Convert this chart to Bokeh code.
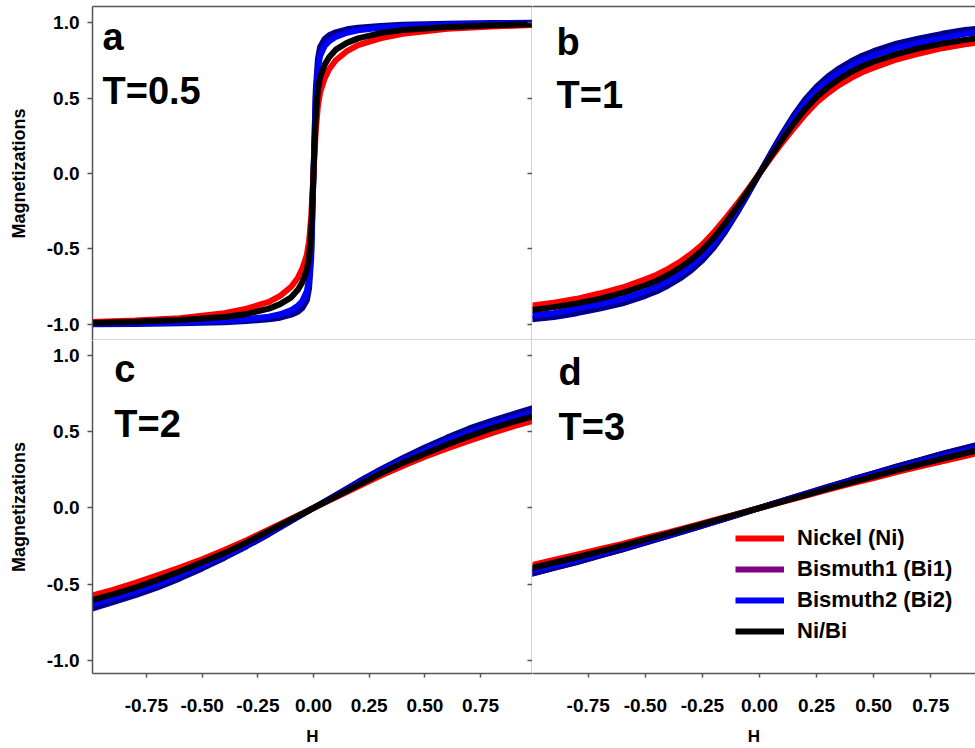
from bokeh.plotting import figure
from bokeh.models import (Range1d, LinearAxis, FixedTicker, Label, Legend, LegendItem,
                          PrintfTickFormatter)
from bokeh.layouts import column, row
from bokeh.embed import file_html
from bokeh.resources import INLINE

# ---------------- data ----------------
X_TICKS = [-0.75, -0.5, -0.25, 0.0, 0.25, 0.5, 0.75]
Y_TICKS = [-1.0, -0.5, 0.0, 0.5, 1.0]

SERIES = ["Nickel (Ni)", "Bismuth1 (Bi1)", "Bismuth2 (Bi2)", "Ni/Bi"]

# panel a, T=0.5
H_A = [-1.0, -0.8, -0.6, -0.4, -0.3, -0.2, -0.15, -0.1, -0.07, -0.05, -0.03, -0.02, -0.01, 0.0,
       0.01, 0.02, 0.03, 0.05, 0.07, 0.1, 0.15, 0.2, 0.3, 0.4, 0.6, 0.8, 1.0]
NI_A = [-0.984, -0.974, -0.958, -0.925, -0.895, -0.85, -0.81, -0.75, -0.69, -0.63, -0.54, -0.45, -0.28, 0.0,
        0.28, 0.45, 0.54, 0.63, 0.69, 0.75, 0.81, 0.85, 0.895, 0.925, 0.958, 0.974, 0.984]
BI1_A = [-0.998, -0.996, -0.992, -0.985, -0.977, -0.965, -0.955, -0.935, -0.915, -0.89, -0.84, -0.76, -0.55, 0.0,
         0.55, 0.76, 0.84, 0.89, 0.915, 0.935, 0.955, 0.965, 0.977, 0.985, 0.992, 0.996, 0.998]
BI2_A = [-0.995, -0.992, -0.986, -0.975, -0.965, -0.948, -0.932, -0.905, -0.875, -0.845, -0.78, -0.70, -0.5, 0.0,
         0.5, 0.70, 0.78, 0.845, 0.875, 0.905, 0.932, 0.948, 0.965, 0.975, 0.986, 0.992, 0.995]
NIBI_A = [-0.99, -0.982, -0.97, -0.95, -0.93, -0.895, -0.865, -0.82, -0.77, -0.72, -0.64, -0.56, -0.38, 0.0,
          0.38, 0.56, 0.64, 0.72, 0.77, 0.82, 0.865, 0.895, 0.93, 0.95, 0.97, 0.982, 0.99]

# panel b, T=1
H_B = [-1.0, -0.9, -0.8, -0.7, -0.6, -0.5, -0.45, -0.4, -0.35, -0.3, -0.25, -0.2, -0.15, -0.1, -0.05, 0.0,
       0.05, 0.1, 0.15, 0.2, 0.25, 0.3, 0.35, 0.4, 0.45, 0.5, 0.6, 0.7, 0.8, 0.9, 1.0]
NI_B = [-0.875, -0.855, -0.83, -0.795, -0.755, -0.70, -0.67, -0.632, -0.587, -0.533, -0.47, -0.39, -0.30, -0.205, -0.104, 0.0,
        0.104, 0.205, 0.30, 0.39, 0.47, 0.533, 0.587, 0.632, 0.67, 0.70, 0.755, 0.795, 0.83, 0.855, 0.875]
BI1_B = [-0.965, -0.95, -0.925, -0.895, -0.86, -0.81, -0.78, -0.742, -0.697, -0.643, -0.575, -0.49, -0.385, -0.265, -0.135, 0.0,
         0.135, 0.265, 0.385, 0.49, 0.575, 0.643, 0.697, 0.742, 0.78, 0.81, 0.86, 0.895, 0.925, 0.95, 0.965]
BI2_B = [-0.94, -0.925, -0.895, -0.865, -0.83, -0.78, -0.75, -0.712, -0.667, -0.612, -0.545, -0.462, -0.362, -0.248, -0.126, 0.0,
         0.126, 0.248, 0.362, 0.462, 0.545, 0.612, 0.667, 0.712, 0.75, 0.78, 0.83, 0.865, 0.895, 0.925, 0.94]
NIBI_B = [-0.905, -0.885, -0.86, -0.83, -0.79, -0.74, -0.71, -0.672, -0.627, -0.572, -0.507, -0.426, -0.331, -0.226, -0.115, 0.0,
          0.115, 0.226, 0.331, 0.426, 0.507, 0.572, 0.627, 0.672, 0.71, 0.74, 0.79, 0.83, 0.86, 0.885, 0.905]

# panels c, d share the field grid
H_G = [-1.0, -0.9, -0.8, -0.7, -0.6, -0.5, -0.4, -0.3, -0.2, -0.1, 0.0,
       0.1, 0.2, 0.3, 0.4, 0.5, 0.6, 0.7, 0.8, 0.9, 1.0]

# panel c, T=2
NI_C = [-0.575, -0.535, -0.49, -0.44, -0.39, -0.335, -0.275, -0.21, -0.14, -0.07, 0.0,
        0.07, 0.14, 0.21, 0.275, 0.335, 0.39, 0.44, 0.49, 0.535, 0.575]
BI1_C = [-0.66, -0.615, -0.57, -0.52, -0.46, -0.395, -0.325, -0.25, -0.17, -0.085, 0.0,
         0.085, 0.17, 0.25, 0.325, 0.395, 0.46, 0.52, 0.57, 0.615, 0.66]
BI2_C = [-0.63, -0.59, -0.545, -0.495, -0.44, -0.375, -0.31, -0.24, -0.16, -0.08, 0.0,
         0.08, 0.16, 0.24, 0.31, 0.375, 0.44, 0.495, 0.545, 0.59, 0.63]
NIBI_C = [-0.605, -0.565, -0.52, -0.47, -0.415, -0.355, -0.295, -0.225, -0.15, -0.075, 0.0,
          0.075, 0.15, 0.225, 0.295, 0.355, 0.415, 0.47, 0.52, 0.565, 0.605]

# panel d, T=3
NI_D = [-0.375, -0.34, -0.305, -0.27, -0.235, -0.195, -0.16, -0.12, -0.08, -0.04, 0.0,
        0.04, 0.08, 0.12, 0.16, 0.195, 0.235, 0.27, 0.305, 0.34, 0.375]
BI1_D = [-0.43, -0.392, -0.353, -0.312, -0.27, -0.227, -0.183, -0.138, -0.092, -0.046, 0.0,
         0.046, 0.092, 0.138, 0.183, 0.227, 0.27, 0.312, 0.353, 0.392, 0.43]
BI2_D = [-0.41, -0.375, -0.337, -0.298, -0.258, -0.217, -0.175, -0.132, -0.088, -0.044, 0.0,
         0.044, 0.088, 0.132, 0.175, 0.217, 0.258, 0.298, 0.337, 0.375, 0.41]
NIBI_D = [-0.393, -0.358, -0.322, -0.285, -0.247, -0.207, -0.167, -0.126, -0.084, -0.042, 0.0,
          0.042, 0.084, 0.126, 0.167, 0.207, 0.247, 0.285, 0.322, 0.358, 0.393]

PANEL_TAGS = ["a", "b", "c", "d"]
PANEL_TEMPS = ["T=0.5", "T=1", "T=2", "T=3"]

# ---------------- style ----------------
FONT = "Liberation Sans"
AXC = "#555555"
C_NI, C_BI1, C_BI2, C_NIBI = "#FF0000", "#00008B", "#0000FF", "#000000"
C_BI1_KEY = "#800080"
LW = 6

X_LEFT = (-0.992, 0.983)
X_RIGHT = (-0.994, 0.946)
Y_TOP = (-1.106, 1.106)
Y_BOT = (-1.082, 1.095)


def make_fig(width, height, xr, yr, b_left, b_top, b_bottom):
    p = figure(width=width, height=height, x_range=Range1d(*xr), y_range=Range1d(*yr),
               output_backend="svg", toolbar_location=None,
               x_axis_location=None, y_axis_location=None,
               min_border_left=b_left, min_border_right=0,
               min_border_top=b_top, min_border_bottom=b_bottom)
    p.outline_line_color = None
    p.xgrid.visible = False
    p.ygrid.visible = False
    p.background_fill_color = "white"
    p.border_fill_color = "white"
    return p


def add_axis(p, place, ticks, fmt, labels=False, tick_out=0, tick_in=0, label_text=None,
             standoff=8, label_standoff=18, label_size="17px"):
    ax = LinearAxis(ticker=FixedTicker(ticks=ticks), formatter=PrintfTickFormatter(format=fmt))
    ax.axis_line_color = AXC
    ax.axis_line_width = 1.5
    ax.major_tick_line_color = AXC if (tick_out or tick_in) else None
    ax.major_tick_line_width = 1.5
    ax.major_tick_out = tick_out
    ax.major_tick_in = tick_in
    ax.minor_tick_line_color = None
    ax.minor_tick_out = 0
    ax.minor_tick_in = 0
    if labels:
        ax.major_label_text_font = FONT
        ax.major_label_text_font_style = "bold"
        ax.major_label_text_font_size = "19px"
        ax.major_label_text_color = "black"
        ax.major_label_standoff = standoff
    else:
        ax.major_label_text_font_size = "0px"
        ax.major_label_text_color = None
        ax.major_label_standoff = 0
    if label_text:
        ax.axis_label = label_text
        ax.axis_label_text_font = FONT
        ax.axis_label_text_font_style = "bold"
        ax.axis_label_text_font_size = label_size
        ax.axis_label_text_color = "black"
        ax.axis_label_standoff = label_standoff
    p.add_layout(ax, place)
    return ax


def border(p, place):
    # plain frame edge: an axis with no ticks and no labels
    add_axis(p, place, [], "%.2f")


def draw(p, h, ni, bi1, bi2, nibi):
    r1 = p.line(h, bi1, line_color=C_BI1, line_width=LW)
    r2 = p.line(h, bi2, line_color=C_BI2, line_width=LW)
    r0 = p.line(h, ni, line_color=C_NI, line_width=LW)
    r3 = p.line(h, nibi, line_color=C_NIBI, line_width=LW)
    return r0, r1, r2, r3


def tags(p, i, x, y1, y2):
    p.add_layout(Label(x=x, y=y1, text=PANEL_TAGS[i], text_font=FONT, text_font_style="bold",
                       text_font_size="38px", text_color="black", text_baseline="alphabetic"))
    p.add_layout(Label(x=x, y=y2, text=PANEL_TEMPS[i], text_font=FONT, text_font_style="bold",
                       text_font_size="38px", text_color="black", text_baseline="alphabetic"))


W_LEFT, W_RIGHT = 532, 443
H_TOP, H_BOT = 340, 408

# panel a
pa = make_fig(W_LEFT, H_TOP, X_LEFT, Y_TOP, 92, 6, 0)
add_axis(pa, "left", Y_TICKS, "%.1f", labels=True, tick_out=5, label_text="Magnetizations",
         label_standoff=15, label_size="18px")
add_axis(pa, "right", Y_TICKS, "%.1f", tick_in=5)
border(pa, "above")
border(pa, "below")
draw(pa, H_A, NI_A, BI1_A, BI2_A, NIBI_A)
tags(pa, 0, -0.947, 0.907, 0.549)

# panel b
pb = make_fig(W_RIGHT, H_TOP, X_RIGHT, Y_TOP, 0, 6, 0)
border(pb, "above")
border(pb, "below")
draw(pb, H_B, NI_B, BI1_B, BI2_B, NIBI_B)
tags(pb, 1, -0.889, 0.872, 0.522)

# panel c
pc = make_fig(W_LEFT, H_BOT, X_LEFT, Y_BOT, 92, 0, 75)
add_axis(pc, "left", Y_TICKS, "%.1f", labels=True, tick_out=5, label_text="Magnetizations",
         label_standoff=15, label_size="18px")
add_axis(pc, "right", Y_TICKS, "%.1f", tick_in=5)
add_axis(pc, "below", X_TICKS, "%.2f", labels=True, tick_out=4, label_text="H", standoff=21,
         label_standoff=12)
draw(pc, H_G, NI_C, BI1_C, BI2_C, NIBI_C)
tags(pc, 2, -0.894, 0.91, 0.55)

# panel d
pd = make_fig(W_RIGHT, H_BOT, X_RIGHT, Y_BOT, 0, 0, 75)
add_axis(pd, "below", X_TICKS, "%.2f", labels=True, tick_out=4, label_text="H", standoff=21,
         label_standoff=12)
r_key = pd.line(H_G, BI1_D, line_color=C_BI1_KEY, line_width=LW)
r_ni, r_bi1, r_bi2, r_nibi = draw(pd, H_G, NI_D, BI1_D, BI2_D, NIBI_D)
tags(pd, 3, -0.88, 0.89, 0.53)

legend = Legend(items=[LegendItem(label=SERIES[0], renderers=[r_ni]),
                       LegendItem(label=SERIES[1], renderers=[r_key]),
                       LegendItem(label=SERIES[2], renderers=[r_bi2]),
                       LegendItem(label=SERIES[3], renderers=[r_nibi])],
                location=(203, 28))
legend.glyph_width = 49
legend.glyph_height = 28
legend.spacing = 3
legend.label_standoff = 13
legend.padding = 0
legend.margin = 0
legend.border_line_color = None
legend.background_fill_alpha = 0
legend.label_text_font = FONT
legend.label_text_font_style = "bold"
legend.label_text_font_size = "22px"
legend.label_text_color = "black"
legend.label_height = 28
pd.add_layout(legend)

layout = column(row(pa, pb), row(pc, pd))
open("out.html", "w").write(file_html(layout, INLINE))
